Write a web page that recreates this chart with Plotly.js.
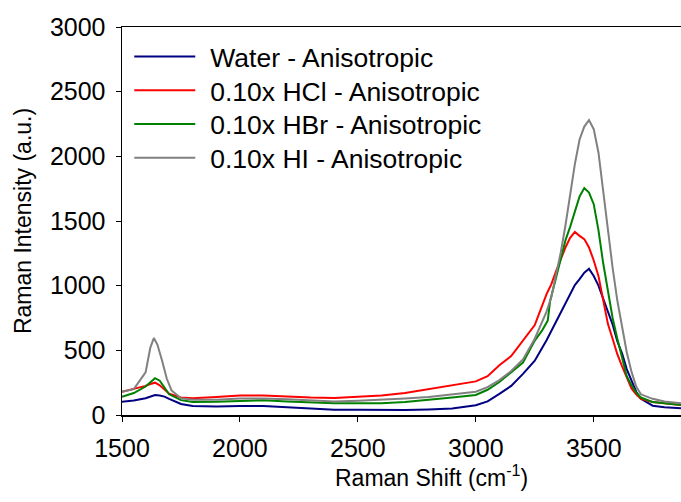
<!DOCTYPE html>
<html>
<head>
<meta charset="utf-8">
<script src="https://cdn.plot.ly/plotly-3.0.1.min.js"></script>
<style>html,body{margin:0;padding:0;background:#fff;}#chart{width:681px;height:502px;}</style>
</head>
<body>
<div id="chart"></div>
<script>
// Raman shift positions (cm^-1) and intensities (a.u.)
const waterX = [1500,1550,1600,1620,1640,1660,1680,1700,1750,1800,1900,2000,2100,2200,2300,2400,2500,2600,2700,2800,2900,3000,3050,3100,3150,3200,3250,3300,3320,3340,3360,3380,3400,3420,3440,3460,3480,3500,3520,3540,3560,3580,3600,3620,3640,3660,3680,3700,3750,3800,3870];
const waterY = [103,112,130,145,155,150,142,125,85,70,65,70,70,60,50,40,40,38,38,42,50,75,105,163,225,318,420,578,650,722,792,870,945,1005,1050,1100,1130,1075,1000,905,810,700,570,477,355,260,180,125,72,60,52];

const hclX = [1500,1550,1600,1620,1640,1660,1680,1700,1750,1800,1900,2000,2100,2200,2300,2400,2500,2600,2700,2800,2900,3000,3050,3100,3150,3200,3250,3300,3320,3340,3360,3380,3400,3420,3440,3460,3480,3500,3520,3540,3560,3580,3600,3620,3640,3660,3680,3700,3750,3800,3870];
const hclY = [180,200,225,240,250,230,200,165,135,130,140,150,150,142,135,132,140,150,170,200,230,260,300,385,455,575,695,935,1010,1110,1210,1295,1370,1415,1385,1360,1295,1195,1075,890,705,590,470,378,290,205,160,125,100,90,78];

const hbrX = [1500,1550,1600,1620,1640,1660,1680,1700,1750,1800,1900,2000,2100,2200,2300,2400,2500,2600,2700,2800,2900,3000,3050,3100,3150,3200,3250,3280,3305,3315,3340,3360,3380,3400,3420,3440,3460,3480,3500,3520,3540,3560,3580,3600,3620,3640,3660,3680,3700,3750,3800,3870];
const hbrY = [140,170,220,255,285,265,210,160,115,100,102,110,115,105,95,90,90,90,100,115,135,155,195,255,330,405,575,650,730,880,1060,1215,1350,1455,1580,1690,1755,1720,1630,1430,1175,950,750,590,440,300,230,172,135,100,90,78];

const hiX = [1500,1550,1600,1620,1635,1650,1670,1690,1710,1750,1800,1900,2000,2100,2200,2300,2400,2500,2600,2700,2800,2900,3000,3050,3100,3150,3200,3250,3300,3320,3340,3360,3380,3400,3420,3440,3460,3480,3500,3520,3540,3560,3580,3600,3620,3640,3660,3680,3700,3750,3800,3870];
const hiY = [180,200,330,520,595,545,420,280,190,130,118,118,128,128,122,115,105,110,118,128,140,160,180,215,270,340,430,590,800,910,1070,1255,1465,1705,1940,2130,2230,2280,2210,2030,1730,1420,1140,885,670,485,335,220,160,125,105,90];

const seriesNames = ['Water - Anisotropic','0.10x HCl - Anisotropic','0.10x HBr - Anisotropic','0.10x HI - Anisotropic'];
const seriesColors = ['#000080','#ff0000','#008000','#808080'];
const xTicks = [1500,2000,2500,3000,3500];
const yTicks = [0,500,1000,1500,2000,2500,3000];
const xTitle = 'Raman Shift (cm<sup>-1</sup>)';
const yTitle = 'Raman Intensity (a.u.)';

const xs = [waterX,hclX,hbrX,hiX];
const ys = [waterY,hclY,hbrY,hiY];

const traces = seriesNames.map((n,i)=>({
  x: xs[i], y: ys[i], name: n, type:'scatter', mode:'lines',
  line:{color:seriesColors[i], width:2}
}));

const font = 'Liberation Sans, Arial, sans-serif';
const layout = {
  width:681, height:502,
  margin:{l:122, r:0, t:27, b:87},
  paper_bgcolor:'#fff', plot_bgcolor:'#fff',
  font:{family:font, color:'#000'},
  showlegend:true,
  legend:{x:0.013, y:0.985, xanchor:'left', yanchor:'top', bgcolor:'rgba(0,0,0,0)',
          font:{family:font, size:26.5, color:'#000'}, itemwidth:71, tracegroupgap:0},
  xaxis:{range:[1500,3870], tickvals:xTicks, ticktext:xTicks.map(String),
         showgrid:false, zeroline:false, showline:true, linecolor:'#000', linewidth:1.5, mirror:true,
         ticks:'outside', ticklen:5, tickcolor:'#000', tickwidth:1, ticklabelstandoff:5,
         tickfont:{family:font, size:25, color:'#000'}},
  yaxis:{range:[0,3000], tickvals:yTicks, ticktext:yTicks.map(String),
         showgrid:false, zeroline:false, showline:true, linecolor:'#000', linewidth:1.5,
         ticks:'outside', ticklen:5, tickcolor:'#000', tickwidth:1, ticklabelstandoff:5,
         tickfont:{family:font, size:25, color:'#000'},
         title:{text:yTitle, font:{family:font, size:23, color:'#000'}, standoff:12}},
  annotations:[{text:xTitle, xref:'paper', yref:'paper', x:0.5537, y:-0.158,
                xanchor:'center', yanchor:'middle', showarrow:false,
                font:{family:font, size:23, color:'#000'}}]
};

Plotly.newPlot('chart', traces, layout, {staticPlot:true, displayModeBar:false}).then(gd=>{
  gd.querySelectorAll('.legendlines path').forEach(p=>p.setAttribute('d','M5,0h61'));
  const items = gd.querySelectorAll('.legend .traces');
  if(items.length){
    const m = /translate\(\s*([-\d.]+)[ ,]+([-\d.]+)\)/.exec(items[0].getAttribute('transform')||'');
    if(m){
      const x0 = parseFloat(m[1]), y0 = parseFloat(m[2]);
      items.forEach((it,i)=>it.setAttribute('transform',`translate(${x0},${y0 + i*33.7})`));
    }
  }
});
</script>
</body>
</html>
